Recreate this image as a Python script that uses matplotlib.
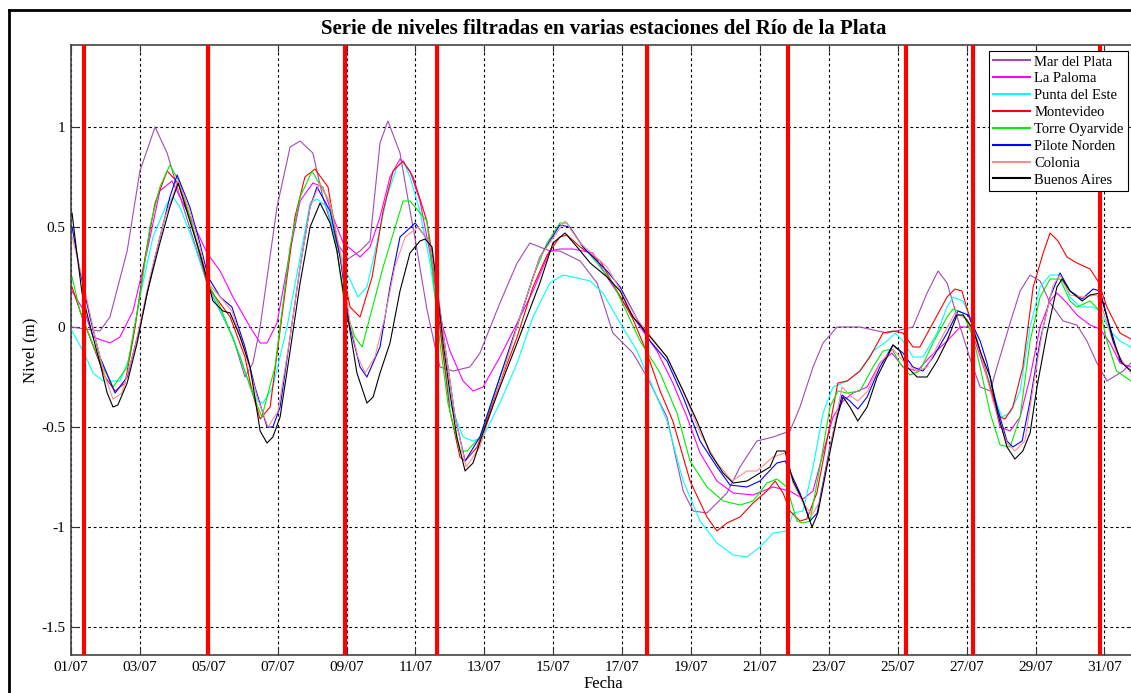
import matplotlib
matplotlib.use("Agg")
import matplotlib.pyplot as plt
from matplotlib.lines import Line2D

# ---- data (day of July, level in m) ----
stations = ["Mar del Plata", "La Paloma", "Punta del Este", "Montevideo",
            "Torre Oyarvide", "Pilote Norden", "Colonia", "Buenos Aires"]
colors = ["#a04cb0", "#ff00ff", "#00ffff", "#ff0000",
          "#00ee00", "#0000ff", "#ff8c8c", "#000000"]

mdp_t = [1.00, 1.84, 2.13, 2.63, 3.00, 3.44, 3.79, 4.08, 4.98, 5.70, 6.05, 6.28, 6.49, 6.98,
         7.36, 7.65, 8.02, 8.31, 8.72, 9.04, 9.39, 9.68, 9.97, 10.20, 10.55, 10.75, 10.99,
         11.33, 11.57, 11.71, 12.09, 12.58, 12.87, 13.45, 13.95, 14.32, 14.90, 15.19, 15.78,
         16.27, 16.73, 17.31, 17.72, 18.30, 18.77, 19.06, 19.46, 20.04, 20.42, 20.91, 21.38,
         21.87, 22.16, 22.54, 22.83, 23.24, 23.90, 24.69, 25.44, 25.85, 26.17, 26.43, 26.81,
         27.10, 27.39, 27.68, 27.88, 28.26, 28.55, 28.84, 29.13, 29.42, 29.80, 30.20, 30.49,
         30.78, 31.07, 31.54, 31.77]
mdp_v = [0.0, -0.02, 0.05, 0.38, 0.78, 1.0, 0.87, 0.7, 0.2, -0.05, -0.25, -0.18, 0.0, 0.6,
         0.9, 0.93, 0.87, 0.65, 0.42, 0.34, 0.38, 0.43, 0.92, 1.03, 0.87, 0.67, 0.44,
         0.09, -0.1, -0.2, -0.22, -0.2, -0.13, 0.12, 0.32, 0.42, 0.38, 0.38, 0.33,
         0.22, -0.03, -0.13, -0.25, -0.45, -0.82, -0.92, -0.93, -0.83, -0.7, -0.57, -0.55,
         -0.52, -0.4, -0.2, -0.08, 0.0, 0.0, -0.03, 0.0, 0.17, 0.28, 0.22, 0.0,
         -0.16, -0.3, -0.32, -0.2, 0.02, 0.18, 0.26, 0.23, 0.12, 0.03, 0.01, -0.07,
         -0.18, -0.27, -0.22, -0.18]

lp_t = [1.03, 1.41, 1.64, 2.13, 2.42, 2.80, 3.21, 3.58, 3.93, 4.54, 4.95, 5.33, 5.70, 6.20,
        6.49, 6.69, 6.98, 7.36, 7.65, 8.02, 8.31, 8.61, 8.90, 9.19, 9.39, 9.68, 9.97, 10.26,
        10.55, 10.84, 11.13, 11.42, 11.71, 12.00, 12.38, 12.67, 12.96, 13.45, 13.95, 14.41,
        14.90, 15.19, 15.57, 16.15, 16.56, 17.02, 17.52, 18.01, 18.47, 18.88, 19.26, 19.75,
        20.22, 20.80, 21.38, 21.87, 22.25, 22.54, 22.83, 23.12, 23.41, 23.70, 24.11, 24.48,
        24.83, 25.15, 25.56, 25.93, 26.43, 26.81, 27.10, 27.30, 27.68, 27.97, 28.26, 28.55,
        28.84, 29.13, 29.42, 29.62, 29.91, 30.20, 30.58, 30.87, 31.16, 31.45, 31.77]
lp_v = [0.18, 0.07, -0.05, -0.08, -0.05, 0.08, 0.38, 0.68, 0.73, 0.52, 0.37, 0.28, 0.15, 0.0,
        -0.08, -0.08, 0.02, 0.38, 0.63, 0.72, 0.70, 0.55, 0.42, 0.38, 0.35, 0.40, 0.55, 0.75,
        0.84, 0.78, 0.63, 0.37, 0.05, -0.12, -0.27, -0.32, -0.30, -0.15, 0.02, 0.18,
        0.38, 0.39, 0.39, 0.37, 0.25, 0.13, 0.0, -0.12, -0.28, -0.45, -0.63, -0.77,
        -0.83, -0.84, -0.80, -0.82, -0.86, -0.82, -0.63, -0.45, -0.37, -0.33, -0.30, -0.18,
        -0.13, -0.20, -0.22, -0.15, -0.07, 0.0, 0.0, -0.10, -0.30, -0.50, -0.52, -0.45,
        -0.25, 0.0, 0.13, 0.17, 0.12, 0.06, 0.01, -0.01, -0.08, -0.18, -0.20]

pde_t = [1.03, 1.35, 1.64, 1.93, 2.42, 2.71, 3.00, 3.38, 3.79, 3.96, 4.16, 4.54, 4.95, 5.33,
         5.70, 6.11, 6.40, 6.57, 6.86, 7.27, 7.65, 7.94, 8.14, 8.43, 8.72, 9.01, 9.33, 9.59,
         9.88, 10.17, 10.46, 10.64, 10.84, 11.13, 11.42, 11.71, 12.00, 12.38, 12.67, 12.96,
         13.45, 13.95, 14.41, 14.90, 15.28, 15.57, 16.07, 16.44, 16.94, 17.43, 17.81, 18.30,
         18.77, 19.26, 19.75, 20.22, 20.62, 21.00, 21.38, 21.78, 21.96, 22.25, 22.54, 22.83,
         23.12, 23.53, 23.90, 24.28, 24.69, 24.92, 25.15, 25.44, 25.73, 26.14, 26.43, 26.60,
         26.89, 27.18, 27.47, 27.76, 28.02, 28.26, 28.55, 28.84, 29.13, 29.42, 29.71, 30.00,
         30.29, 30.67, 30.87, 31.16, 31.45, 31.77]
pde_v = [-0.02, -0.12, -0.23, -0.27, -0.27, -0.15, 0.15, 0.45, 0.62, 0.65, 0.60, 0.43, 0.22, 0.08,
         -0.05, -0.25, -0.37, -0.38, -0.30, 0.0, 0.35, 0.62, 0.64, 0.60, 0.42, 0.27, 0.15, 0.20,
         0.42, 0.65, 0.80, 0.83, 0.75, 0.58, 0.32, -0.02, -0.38, -0.55, -0.57, -0.55,
         -0.38, -0.18, 0.05, 0.22, 0.26, 0.25, 0.23, 0.17, 0.02, -0.12, -0.27, -0.47,
         -0.77, -0.97, -1.08, -1.14, -1.15, -1.10, -1.03, -1.02, -0.93, -0.92, -0.70, -0.43,
         -0.30, -0.27, -0.22, -0.12, -0.07, -0.03, -0.07, -0.15, -0.15, -0.03, 0.10, 0.15,
         0.13, 0.02, -0.17, -0.33, -0.45, -0.43, -0.32, 0.0, 0.20, 0.26, 0.26, 0.15,
         0.10, 0.10, 0.08, -0.02, -0.07, -0.10]

mvd_t = [1.03, 1.32, 1.70, 1.99, 2.28, 2.57, 2.86, 3.15, 3.44, 3.79, 4.11, 4.45, 4.98, 5.62,
         6.05, 6.25, 6.49, 6.78, 7.12, 7.50, 7.79, 8.08, 8.46, 8.81, 9.10, 9.39, 9.74, 10.06,
         10.35, 10.64, 10.93, 11.33, 11.51, 11.71, 12.00, 12.29, 12.44, 12.79, 13.45, 13.95,
         14.41, 14.82, 15.19, 15.40, 15.78, 16.36, 16.85, 17.31, 17.72, 18.10, 18.47, 18.97,
         19.46, 19.75, 20.04, 20.42, 20.80, 21.20, 21.44, 21.67, 21.87, 22.16, 22.36, 22.65,
         22.94, 23.26, 23.53, 23.90, 24.19, 24.57, 24.86, 25.15, 25.44, 25.64, 26.02, 26.43,
         26.66, 26.86, 27.10, 27.39, 27.68, 27.97, 28.11, 28.34, 28.63, 28.93, 29.22, 29.42,
         29.65, 29.91, 30.20, 30.58, 30.81, 31.07, 31.45, 31.77]
mvd_v = [0.20, 0.05, -0.12, -0.25, -0.32, -0.28, 0.0, 0.35, 0.62, 0.78, 0.72, 0.55, 0.20, 0.05,
         -0.15, -0.32, -0.46, -0.40, 0.05, 0.55, 0.75, 0.79, 0.70, 0.35, 0.10, 0.05, 0.25, 0.58,
         0.78, 0.83, 0.75, 0.53, 0.33, 0.0, -0.42, -0.65, -0.67, -0.60, -0.28, -0.05,
         0.20, 0.36, 0.45, 0.46, 0.40, 0.33, 0.18, 0.04, -0.13, -0.32, -0.47, -0.77,
         -0.95, -1.02, -0.98, -0.95, -0.88, -0.82, -0.77, -0.83, -0.92, -0.97, -0.96, -0.83,
         -0.57, -0.28, -0.27, -0.22, -0.15, -0.03, -0.02, -0.03, -0.10, -0.10, 0.02, 0.15,
         0.19, 0.18, 0.04, -0.12, -0.30, -0.45, -0.46, -0.40, -0.20, 0.20, 0.37, 0.47,
         0.43, 0.35, 0.32, 0.29, 0.23, 0.10, -0.03, -0.06]

tor_t = [1.03, 1.26, 1.55, 1.84, 2.22, 2.63, 3.00, 3.29, 3.58, 3.87, 4.16, 4.45, 4.98, 5.33,
         5.91, 6.20, 6.54, 6.92, 7.36, 7.65, 8.00, 8.52, 8.95, 9.24, 9.45, 10.06, 10.64, 10.84,
         11.33, 11.51, 11.71, 11.94, 12.29, 12.50, 12.87, 13.45, 13.95, 14.41, 14.82, 15.19,
         15.40, 15.78, 16.27, 16.73, 17.14, 17.52, 18.10, 18.59, 18.97, 19.46, 19.93, 20.42,
         20.80, 21.20, 21.49, 21.78, 22.07, 22.25, 22.45, 22.74, 23.03, 23.26, 23.53, 23.90,
         24.28, 24.57, 24.83, 25.06, 25.35, 25.64, 26.02, 26.43, 26.60, 26.89, 27.18, 27.39,
         27.68, 27.97, 28.26, 28.55, 28.84, 29.13, 29.42, 29.71, 30.00, 30.20, 30.58, 30.87,
         31.07, 31.35, 31.77]
tor_v = [0.25, 0.08, -0.05, -0.17, -0.30, -0.20, 0.15, 0.50, 0.70, 0.81, 0.72, 0.55, 0.22, 0.10,
         -0.15, -0.30, -0.45, -0.20, 0.40, 0.65, 0.78, 0.62, 0.10, -0.05, -0.10, 0.30, 0.63, 0.63,
         0.53, 0.25, -0.08, -0.38, -0.62, -0.62, -0.55, -0.25, 0.0, 0.25, 0.42, 0.52,
         0.52, 0.42, 0.32, 0.22, 0.07, -0.07, -0.23, -0.43, -0.67, -0.80, -0.87, -0.89,
         -0.87, -0.78, -0.76, -0.80, -0.97, -0.98, -0.97, -0.70, -0.40, -0.32, -0.33, -0.32,
         -0.20, -0.12, -0.11, -0.18, -0.24, -0.22, -0.08, 0.05, 0.09, 0.07, -0.05, -0.20,
         -0.43, -0.59, -0.60, -0.45, -0.07, 0.15, 0.24, 0.24, 0.13, 0.10, 0.13, 0.08,
         -0.07, -0.22, -0.27]

pn_t = [1.03, 1.26, 1.55, 1.84, 2.28, 2.63, 3.00, 3.44, 3.87, 4.08, 4.45, 4.74, 4.98, 5.33,
        5.67, 6.05, 6.34, 6.69, 6.86, 7.07, 7.36, 7.65, 7.94, 8.14, 8.52, 8.81, 9.10, 9.39,
        9.59, 9.97, 10.26, 10.55, 10.99, 11.42, 11.62, 11.86, 12.15, 12.44, 12.87, 13.45,
        14.03, 14.61, 15.19, 15.48, 15.86, 16.56, 16.94, 17.43, 17.81, 18.30, 18.77, 19.26,
        19.75, 20.13, 20.62, 21.00, 21.49, 21.73, 22.16, 22.45, 22.66, 23.03, 23.38, 23.61,
        23.84, 24.11, 24.48, 24.86, 25.15, 25.44, 25.73, 26.03, 26.43, 26.75, 27.04, 27.39,
        27.59, 27.88, 28.17, 28.34, 28.61, 28.84, 29.13, 29.42, 29.71, 30.00, 30.35, 30.67,
        30.87, 31.16, 31.45, 31.77]
pn_v = [0.50, 0.28, 0.05, -0.15, -0.33, -0.25, 0.0, 0.35, 0.65, 0.76, 0.60, 0.42, 0.25, 0.15,
        0.10, -0.10, -0.30, -0.50, -0.50, -0.40, -0.05, 0.30, 0.60, 0.70, 0.58, 0.35, 0.0, -0.20,
        -0.25, -0.10, 0.20, 0.45, 0.52, 0.42, 0.20, -0.10, -0.45, -0.67, -0.55, -0.25,
        0.05, 0.35, 0.51, 0.50, 0.40, 0.28, 0.20, 0.04, -0.07, -0.17, -0.35, -0.57,
        -0.70, -0.79, -0.80, -0.77, -0.68, -0.67, -0.83, -0.97, -0.93, -0.60, -0.34, -0.37,
        -0.41, -0.35, -0.20, -0.09, -0.13, -0.20, -0.22, -0.15, -0.03, 0.08, 0.06, -0.07,
        -0.18, -0.40, -0.57, -0.60, -0.57, -0.37, -0.07, 0.15, 0.27, 0.18, 0.14, 0.19,
        0.18, 0.0, -0.17, -0.22]

col_t = [1.03, 1.32, 1.70, 1.99, 2.22, 2.48, 2.86, 3.29, 3.73, 4.11, 4.45, 4.74, 4.98, 5.33,
         5.67, 6.05, 6.40, 6.72, 7.01, 7.36, 7.65, 7.94, 8.23, 8.52, 8.81, 9.10, 9.33, 9.54,
         9.82, 10.11, 10.40, 10.70, 11.07, 11.42, 11.62, 11.86, 12.15, 12.47, 12.87, 13.45,
         14.03, 14.61, 15.34, 15.78, 16.56, 17.43, 18.30, 18.77, 19.26, 19.75, 20.19, 20.62,
         20.91, 21.38, 21.73, 21.96, 22.25, 22.51, 22.74, 23.12, 23.38, 23.67, 23.84, 24.13,
         24.48, 24.86, 25.15, 25.56, 25.85, 26.22, 26.66, 27.01, 27.39, 27.76, 28.17, 28.40,
         28.69, 28.93, 29.22, 29.51, 29.71, 30.00, 30.38, 30.78, 30.96, 31.35, 31.77]
col_v = [0.45, 0.25, -0.05, -0.25, -0.36, -0.33, -0.10, 0.25, 0.55, 0.73, 0.58, 0.40, 0.22, 0.15,
         0.08, -0.12, -0.35, -0.50, -0.42, -0.05, 0.30, 0.60, 0.72, 0.62, 0.38, 0.02, -0.15, -0.23,
         -0.15, 0.05, 0.30, 0.45, 0.50, 0.42, 0.20, -0.10, -0.45, -0.70, -0.60, -0.28,
         0.05, 0.35, 0.53, 0.42, 0.30, 0.04, -0.15, -0.32, -0.53, -0.68, -0.77, -0.72,
         -0.72, -0.65, -0.63, -0.78, -0.88, -0.94, -0.87, -0.53, -0.30, -0.35, -0.37, -0.32,
         -0.18, -0.11, -0.17, -0.22, -0.20, -0.07, 0.07, 0.04, -0.12, -0.37, -0.58, -0.62,
         -0.57, -0.30, 0.0, 0.21, 0.26, 0.16, 0.15, 0.16, 0.08, -0.13, -0.23]

ba_t = [1.03, 1.17, 1.32, 1.46, 1.61, 1.84, 2.05, 2.22, 2.36, 2.63, 2.92, 3.21, 3.58, 3.87,
        4.11, 4.45, 4.74, 4.98, 5.12, 5.41, 5.62, 5.91, 6.20, 6.49, 6.69, 6.86, 7.07, 7.36,
        7.65, 7.94, 8.23, 8.52, 8.72, 8.90, 9.10, 9.30, 9.59, 9.77, 9.97, 10.26, 10.55, 10.84,
        11.13, 11.28, 11.48, 11.62, 11.80, 12.00, 12.20, 12.44, 12.67, 12.96, 13.45, 13.95,
        14.41, 14.61, 14.99, 15.34, 15.69, 16.07, 16.56, 16.94, 17.31, 17.72, 18.30, 18.77,
        19.17, 19.55, 19.93, 20.22, 20.62, 21.00, 21.29, 21.49, 21.73, 21.96, 22.25, 22.51,
        22.68, 22.94, 23.24, 23.41, 23.61, 23.84, 24.11, 24.40, 24.69, 24.86, 25.06, 25.27,
        25.56, 25.85, 26.14, 26.43, 26.72, 26.89, 27.18, 27.39, 27.68, 27.88, 28.17, 28.40,
        28.63, 28.84, 29.04, 29.33, 29.62, 29.77, 30.00, 30.35, 30.58, 30.87, 31.07, 31.25,
        31.51, 31.77]
ba_v = [0.57, 0.37, 0.17, 0.07, -0.03, -0.18, -0.33, -0.40, -0.39, -0.28, -0.08, 0.17, 0.42, 0.60,
        0.72, 0.53, 0.37, 0.22, 0.13, 0.08, 0.07, -0.05, -0.20, -0.52, -0.58, -0.55, -0.45, -0.12,
        0.22, 0.50, 0.62, 0.52, 0.38, 0.18, -0.02, -0.23, -0.38, -0.35, -0.23, -0.08, 0.18, 0.37,
        0.43, 0.44, 0.40, 0.20, -0.08, -0.33, -0.55, -0.72, -0.68, -0.53, -0.30, -0.08,
        0.13, 0.22, 0.42, 0.47, 0.40, 0.32, 0.25, 0.18, 0.05, -0.03, -0.15, -0.32,
        -0.47, -0.63, -0.73, -0.78, -0.77, -0.73, -0.70, -0.62, -0.62, -0.77, -0.87, -1.00,
        -0.93, -0.70, -0.45, -0.35, -0.40, -0.47, -0.40, -0.25, -0.15, -0.09, -0.12, -0.20,
        -0.25, -0.25, -0.17, -0.07, 0.06, 0.06, -0.01, -0.12, -0.25, -0.42, -0.60, -0.66,
        -0.62, -0.53, -0.30, -0.03, 0.20, 0.24, 0.18, 0.13, 0.16, 0.17, 0.05, -0.07,
        -0.18, -0.22]

series_t = [mdp_t, lp_t, pde_t, mvd_t, tor_t, pn_t, col_t, ba_t]
series_v = [mdp_v, lp_v, pde_v, mvd_v, tor_v, pn_v, col_v, ba_v]

# dias marcados con linea roja
event_days = [1.38, 4.98, 8.95, 11.62, 17.72, 21.81, 25.24, 27.18, 30.87]

tick_days = [1, 3, 5, 7, 9, 11, 13, 15, 17, 19, 21, 23, 25, 27, 29, 31]
tick_labels = ["01/07", "03/07", "05/07", "07/07", "09/07", "11/07", "13/07", "15/07",
               "17/07", "19/07", "21/07", "23/07", "25/07", "27/07", "29/07", "31/07"]
ytick_vals = [-1.5, -1, -0.5, 0, 0.5, 1]
ytick_labels = ["-1.5", "-1", "-0.5", "0", "0.5", "1"]

serif = "Liberation Serif"

fig = plt.figure(figsize=(11.31, 6.93), dpi=100)
ax = fig.add_axes([71 / 1131, 38 / 693, 1064.5 / 1131, 610 / 693])

for t, v, name, c in zip(series_t, series_v, stations, colors):
    ax.plot(t, v, color=c, linewidth=0.8, label=name, zorder=3)

for d in event_days:
    ax.axvline(d, color="red", linewidth=3, zorder=4)

ax.set_xlim(1, 31.9)
ax.set_ylim(-1.64, 1.41)
ax.set_xticks(tick_days)
ax.set_xticklabels(tick_labels, fontfamily=serif, fontsize=11)
ax.set_yticks(ytick_vals)
ax.set_yticklabels(ytick_labels, fontfamily=serif, fontsize=11)
ax.tick_params(direction="in", length=5, top=True, right=True, color="#333333", pad=4)

ax.grid(True, color="black", linestyle=(0, (2.5, 2.5)), linewidth=0.8)
ax.set_axisbelow(True)
for s in ax.spines.values():
    s.set_color("#444444")
    s.set_linewidth(1.2)

ax.set_title("Serie de niveles filtradas en varias estaciones del Río de la Plata",
             fontfamily=serif, fontweight="bold", fontsize=15, pad=8)
ax.set_xlabel("Fecha", fontfamily=serif, fontsize=12, labelpad=2)
ax.set_ylabel("Nivel (m)", fontfamily=serif, fontsize=12, labelpad=2)

leg = ax.legend(loc="upper right", bbox_to_anchor=(1128 / 1131, 1 - 51 / 693),
                bbox_transform=fig.transFigure, borderaxespad=0,
                prop={"family": serif, "size": 10.5}, fancybox=False,
                edgecolor="black", framealpha=1, handlelength=2.5,
                handletextpad=0.3, labelspacing=0.25, borderpad=0.3)
leg.get_frame().set_linewidth(0.8)
leg.set_zorder(10)
for h in leg.get_lines():
    h.set_linewidth(1.5)

# marco de la ventana
fig.add_artist(Line2D([8.5 / 1131, 8.5 / 1131], [0, 1 - 10 / 693],
                      transform=fig.transFigure, color="black", linewidth=2))
fig.add_artist(Line2D([8.5 / 1131, 1], [1 - 10 / 693, 1 - 10 / 693],
                      transform=fig.transFigure, color="black", linewidth=2))

fig.savefig("out.png", dpi=100)
